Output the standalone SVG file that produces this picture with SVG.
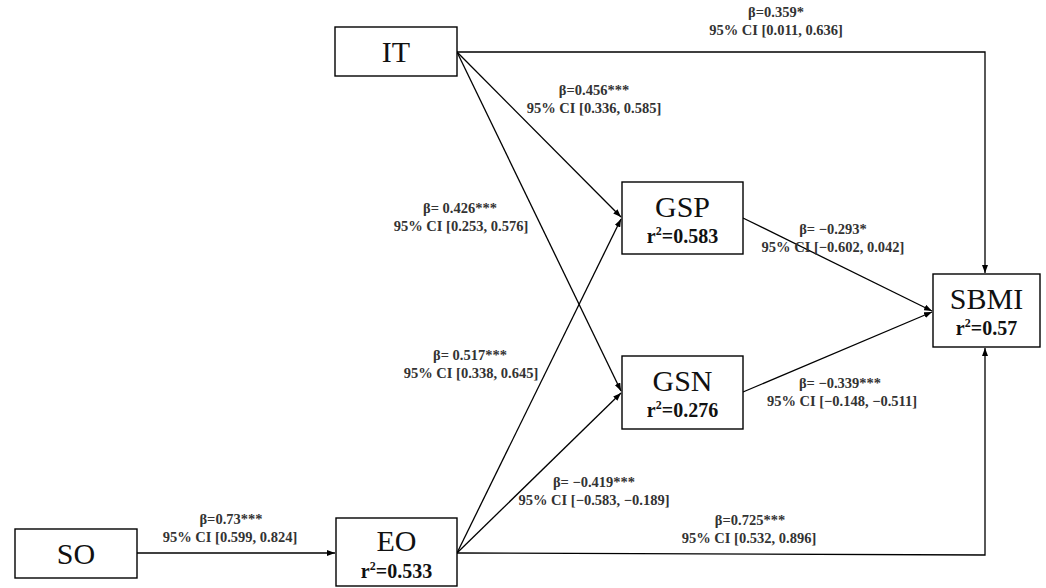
<svg xmlns="http://www.w3.org/2000/svg" width="1046" height="588" viewBox="0 0 1046 588">
  <style>
    .box { fill: #ffffff; stroke: #000000; stroke-width: 1.4; }
    .name { font-family: "Liberation Serif", "Times New Roman", serif; font-size: 30px; fill: #111111; text-anchor: middle; }
    .r2 { font-family: "Liberation Serif", "Times New Roman", serif; font-size: 20px; font-weight: bold; fill: #111111; text-anchor: middle; }
    .sup { font-size: 12px; }
    .lbl { font-family: "Liberation Serif", "Times New Roman", serif; font-size: 14.5px; font-weight: bold; fill: #333333; text-anchor: middle; }
    .edge { fill: none; stroke: #000000; stroke-width: 1.3; }
  </style>
  <defs>
    <marker id="arrow" viewBox="0 0 8 6" refX="8" refY="3" markerWidth="8" markerHeight="6" markerUnits="userSpaceOnUse" orient="auto">
      <path d="M0,0 L8,3 L0,6 Z" fill="#000000"/>
    </marker>
  </defs>
  <rect width="1046" height="588" fill="#ffffff"/>

  <!-- connectors -->
  <g id="connectors">
    <polyline class="edge" points="457,52 985,52 985,273" marker-end="url(#arrow)"/>
    <line class="edge" x1="457" y1="52" x2="621" y2="217" marker-end="url(#arrow)"/>
    <line class="edge" x1="457" y1="52" x2="621" y2="391" marker-end="url(#arrow)"/>
    <line class="edge" x1="457" y1="553" x2="621" y2="219" marker-end="url(#arrow)"/>
    <line class="edge" x1="457" y1="553" x2="621" y2="393" marker-end="url(#arrow)"/>
    <line class="edge" x1="743" y1="218" x2="932" y2="311" marker-end="url(#arrow)"/>
    <line class="edge" x1="743" y1="392" x2="932" y2="312" marker-end="url(#arrow)"/>
    <line class="edge" x1="137" y1="553" x2="335" y2="553" marker-end="url(#arrow)"/>
    <polyline class="edge" points="457,553 985,555 985,348" marker-end="url(#arrow)"/>
  </g>

  <!-- path coefficients -->
  <g id="labels">
    <text class="lbl" x="776" y="17">β=0.359*</text>
    <text class="lbl" x="776" y="35">95% CI [0.011, 0.636]</text>
    <text class="lbl" x="594" y="95">β=0.456***</text>
    <text class="lbl" x="594" y="113">95% CI [0.336, 0.585]</text>
    <text class="lbl" x="460" y="213">β= 0.426***</text>
    <text class="lbl" x="461" y="231">95% CI [0.253, 0.576]</text>
    <text class="lbl" x="470" y="360">β= 0.517***</text>
    <text class="lbl" x="471" y="378">95% CI [0.338, 0.645]</text>
    <text class="lbl" x="594" y="487">β= −0.419***</text>
    <text class="lbl" x="594" y="505">95% CI [−0.583, −0.189]</text>
    <text class="lbl" x="231" y="524">β=0.73***</text>
    <text class="lbl" x="230" y="542">95% CI [0.599, 0.824]</text>
    <text class="lbl" x="750" y="525">β=0.725***</text>
    <text class="lbl" x="749" y="543">95% CI [0.532, 0.896]</text>
    <text class="lbl" x="833" y="234">β= −0.293*</text>
    <text class="lbl" x="833" y="252">95% CI [−0.602, 0.042]</text>
    <text class="lbl" x="840" y="388">β= −0.339***</text>
    <text class="lbl" x="842" y="406">95% CI [−0.148, −0.511]</text>
  </g>

  <g id="node-IT">
    <rect class="box" x="335" y="27" width="122" height="49"/>
    <text class="name" x="396" y="62">IT</text>
  </g>
  <g id="node-GSP">
    <rect class="box" x="622" y="182" width="121" height="72"/>
    <text class="name" x="682.5" y="217">GSP</text>
    <text class="r2" x="682.5" y="243">r<tspan class="sup" dy="-8">2</tspan><tspan dy="8">=0.583</tspan></text>
  </g>
  <g id="node-GSN">
    <rect class="box" x="622" y="356" width="121" height="73"/>
    <text class="name" x="682.5" y="391">GSN</text>
    <text class="r2" x="682.5" y="417">r<tspan class="sup" dy="-8">2</tspan><tspan dy="8">=0.276</tspan></text>
  </g>
  <g id="node-SBMI">
    <rect class="box" x="933" y="274" width="107" height="73"/>
    <text class="name" x="986.5" y="309">SBMI</text>
    <text class="r2" x="986.5" y="335">r<tspan class="sup" dy="-8">2</tspan><tspan dy="8">=0.57</tspan></text>
  </g>
  <g id="node-SO">
    <rect class="box" x="15" y="529" width="122" height="49"/>
    <text class="name" x="76" y="564">SO</text>
  </g>
  <g id="node-EO">
    <rect class="box" x="336" y="518" width="121" height="68"/>
    <text class="name" x="396.5" y="551">EO</text>
    <text class="r2" x="396.5" y="578">r<tspan class="sup" dy="-8">2</tspan><tspan dy="8">=0.533</tspan></text>
  </g>
</svg>
